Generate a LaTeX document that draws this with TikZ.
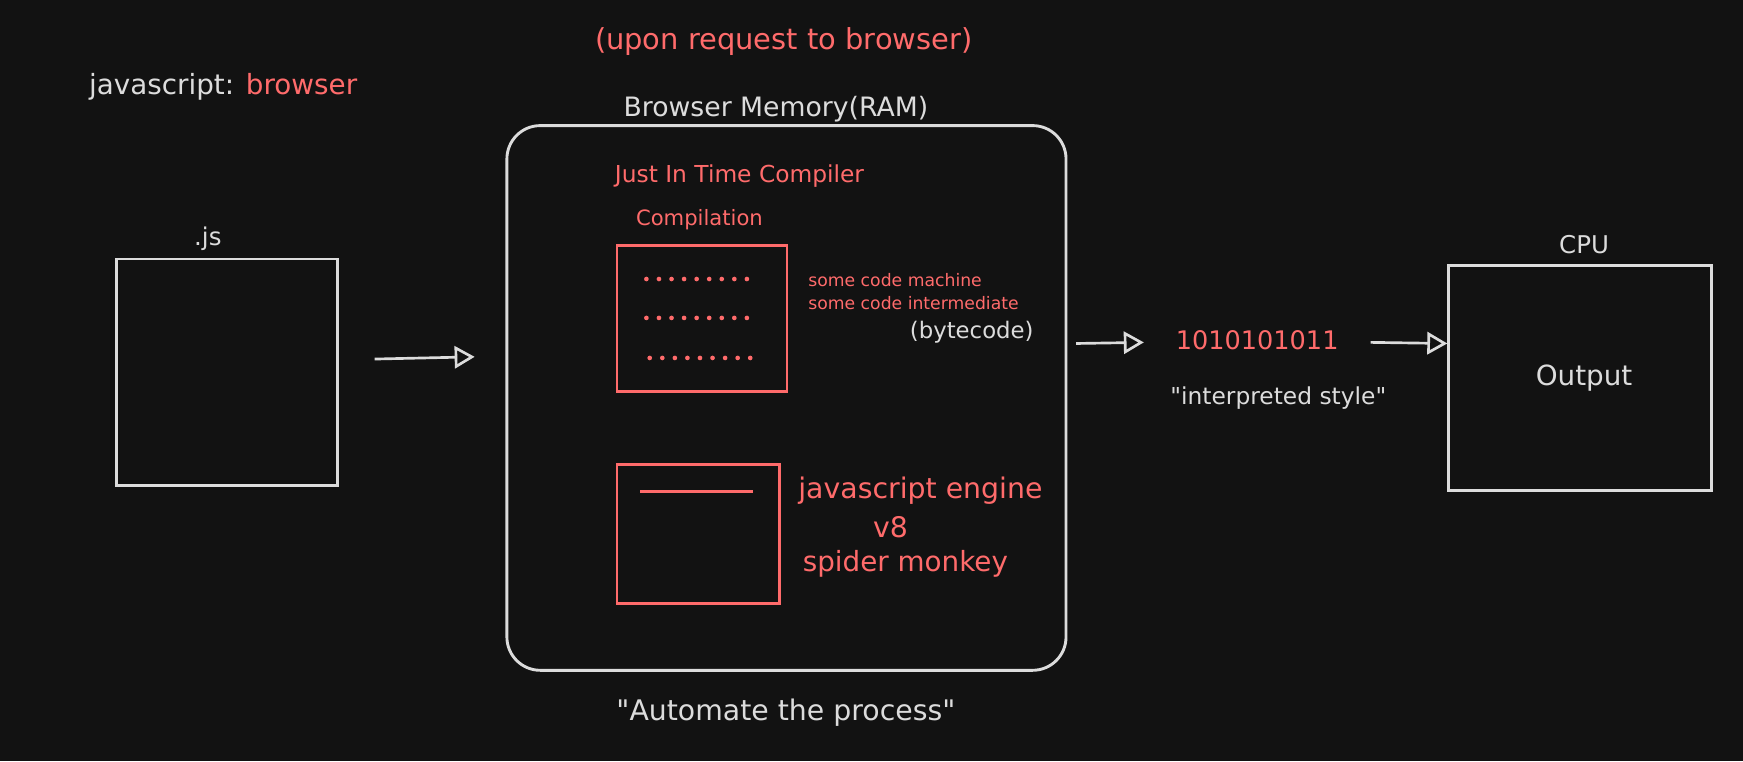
\documentclass[tikz,border=0pt]{standalone}
\usepackage{fontspec}
\setmainfont{DejaVu Sans}[Ligatures=TeXOff]
\usetikzlibrary{arrows.meta}
\definecolor{bg}{HTML}{121212}
\definecolor{wht}{HTML}{DCDCDC}
\definecolor{sred}{HTML}{FF6B6B}
\begin{document}
\begin{tikzpicture}[x=1pt,y=-1pt,
  wbox/.style={draw=wht,line width=2.6pt,inner sep=0pt},
  rbox/.style={draw=sred,line width=2.6pt,inner sep=0pt},
  wtxt/.style={text=wht,inner sep=0pt},
  rtxt/.style={text=sred,inner sep=0pt},
  fs/.style={font=\fontsize{#1}{#1}\selectfont},
  arr/.style={draw=wht,line width=2.4pt,-{Triangle[open,length=18pt,width=20pt]}}
]
\fill[bg] (0,0) rectangle (1568,685);
\useasboundingbox (0,0) rectangle (1568,685);

% top texts
\node[rtxt,fs=26] (upon) at (705,37) {(upon request to browser)};
\node[wtxt,fs=25,anchor=west] (jsb) at (80,78) {javascript: \textcolor{sred}{browser}};
\node[wtxt,fs=24] (bmem) at (698,98) {Browser Memory(RAM)};

% js box
\node[wtxt,fs=22] (jslbl) at (187,215) {.js};
\node[wbox,minimum width=199pt,minimum height=204pt] (js) at (204.5,335) {};

% big memory box
\node[wbox,rounded corners=30pt,minimum width=503pt,minimum height=490pt] (mem) at (707.5,358) {};

% JIT
\node[rtxt,fs=21,anchor=west] (jit) at (553,158) {Just In Time Compiler};
\node[rtxt,fs=19,anchor=west] (comp) at (572,198) {Compilation};
\node[rbox,minimum width=153pt,minimum height=131pt] (cbox) at (631.5,286.5) {};
\foreach \i in {0,...,8} {
  \fill[sred] (581.5+11.3*\i,251) circle (2.1pt);
  \fill[sred] (581.5+11.3*\i,286) circle (2.1pt);
  \fill[sred] (584.5+11.3*\i,322) circle (2.1pt);
}
\node[rtxt,fs=15.5,anchor=west] (scm) at (727,252) {some code machine};
\node[rtxt,fs=15.5,anchor=west] (sci) at (727,273) {some code intermediate};
\node[wtxt,fs=20.5,anchor=east] (byte) at (930,299) {(bytecode)};

% engine
\node[rbox,minimum width=146pt,minimum height=125pt] (ebox) at (628,480.5) {};
\coordinate (el1) at (576,442);
\coordinate (el2) at (677,442);
\draw[sred,line width=2.6pt] (el1) -- (el2);
\node[rtxt,fs=25.5,anchor=west] (eng) at (718,441) {javascript engine};
\node[rtxt,fs=25.5] (v8) at (801,474) {v8};
\node[rtxt,fs=25,anchor=west] (spm) at (722,507) {spider monkey};

% bottom text
\node[wtxt,fs=25.5] (auto) at (707,641) {"Automate the process"};

% binary
\node[rtxt,fs=23] (bin) at (1131,306) {1010101011};
\node[wtxt,fs=21] (interp) at (1150,358) {"interpreted style"};

% CPU
\node[wtxt,fs=22] (cpulbl) at (1425,220) {CPU};
\node[wbox,minimum width=237pt,minimum height=202pt] (cpu) at (1421.5,340) {};
\node[wtxt,fs=25] (out) at (1425,340) {Output};

% arrows
\coordinate (a1s) at (337,323);
\coordinate (a1e) at (427,321);
\draw[arr] (a1s) -- (a1e);
\coordinate (a2s) at (968,309);
\coordinate (a2e) at (1029,308);
\draw[arr] (a2s) -- (a2e);
\coordinate (a3s) at (1233,308);
\coordinate (a3e) at (1302,309);
\draw[arr] (a3s) -- (a3e);
\end{tikzpicture}
\end{document}
